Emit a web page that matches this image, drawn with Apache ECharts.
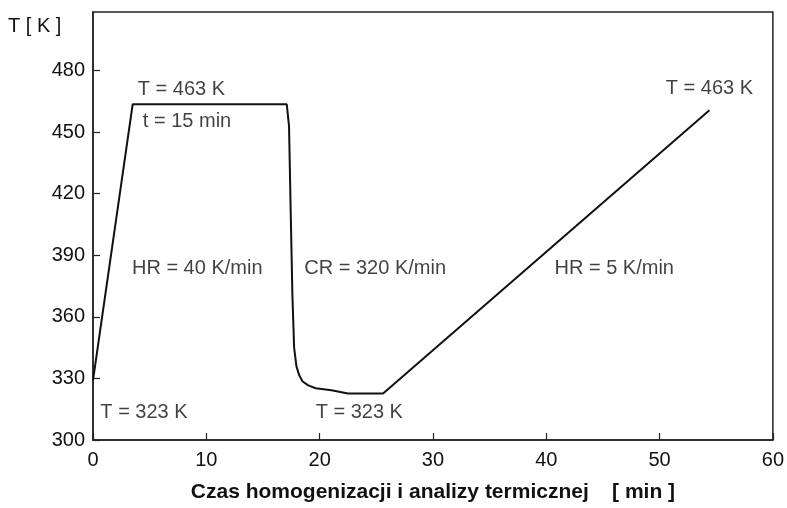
<!DOCTYPE html>
<html>
<head>
<meta charset="utf-8">
<script src="https://cdn.jsdelivr.net/npm/echarts@6/dist/echarts.min.js"></script>
<style>html,body{margin:0;padding:0;background:#fff}#c{width:787px;height:508px}</style>
</head>
<body>
<div id="c"></div>
<script>
// Temperature profile [time min, T K]
const curveTime = [0, 3.5, 17.1, 17.3, 17.45, 17.6, 17.75, 17.95, 18.2, 18.5, 19.0, 19.65, 21.05, 22.5, 25.6, 54.4];
const curveTemp = [329, 463.5, 463.5, 452.9, 410.3, 370, 345, 336, 331.5, 328.5, 326.6, 325.2, 324.2, 322.7, 322.7, 460.6];
const xTicks = [0, 10, 20, 30, 40, 50, 60];
const yTicks = [300, 330, 360, 390, 420, 450, 480];
// annotations [time, T, text]
const noteTime = [7.8, 8.3, 9.2, 24.9, 46.0, 54.4, 4.5, 23.5];
const noteTemp = [470.8, 455.3, 383.7, 383.7, 383.7, 471.3, 313.5, 313.5];
const noteText = ['T = 463 K', 't = 15 min', 'HR = 40 K/min', 'CR = 320 K/min', 'HR = 5 K/min', 'T = 463 K', 'T = 323 K', 'T = 323 K'];

const FONT = '"Liberation Sans", Arial, sans-serif';
const chart = echarts.init(document.getElementById('c'), null, {renderer: 'canvas'});
const line = curveTime.map((t, i) => [t, curveTemp[i]]);
const notes = noteTime.map((t, i) => ({value: [t, noteTemp[i]], name: noteText[i]}));

chart.setOption({
  animation: false,
  backgroundColor: '#fff',
  grid: {left: 93, right: 10, top: 12, bottom: 65, show: true, borderColor: '#222', borderWidth: 1.5, backgroundColor: 'transparent'},
  graphic: [{type: 'text', left: 8, top: 16, style: {text: 'T [ K ]', font: '20px ' + FONT, fill: '#111'}}],
  xAxis: {
    type: 'value', min: xTicks[0], max: xTicks[xTicks.length - 1], interval: 10,
    axisLine: {lineStyle: {color: '#222', width: 1.5}},
    axisTick: {inside: true, length: 7, lineStyle: {color: '#222', width: 1.2}},
    splitLine: {show: false},
    axisLabel: {color: '#111', fontSize: 20, fontFamily: FONT, margin: 10},
    name: 'Czas homogenizacji i analizy termicznej    [ min ]',
    nameLocation: 'middle', nameGap: 42,
    nameTextStyle: {color: '#111', fontSize: 21, fontFamily: FONT, fontWeight: 'bold'}
  },
  yAxis: {
    type: 'value', min: yTicks[0], max: 508.5, interval: 30,
    axisLine: {show: true, lineStyle: {color: '#222', width: 1.5}},
    axisTick: {show: true, inside: true, length: 7, lineStyle: {color: '#222', width: 1.2}},
    splitLine: {show: false},
    axisLabel: {color: '#111', fontSize: 20, fontFamily: FONT, margin: 8, showMaxLabel: false,
      formatter: v => yTicks.indexOf(v) >= 0 ? String(v) : ''}
  },
  series: [
    {type: 'line', data: line, showSymbol: false, symbol: 'none', smooth: false,
      lineStyle: {color: '#111', width: 2}},
    {type: 'scatter', data: notes, symbolSize: 0, silent: true,
      label: {show: true, position: 'inside', formatter: p => p.name, color: '#111', fontSize: 20, fontFamily: FONT}}
  ]
});
</script>
</body>
</html>
